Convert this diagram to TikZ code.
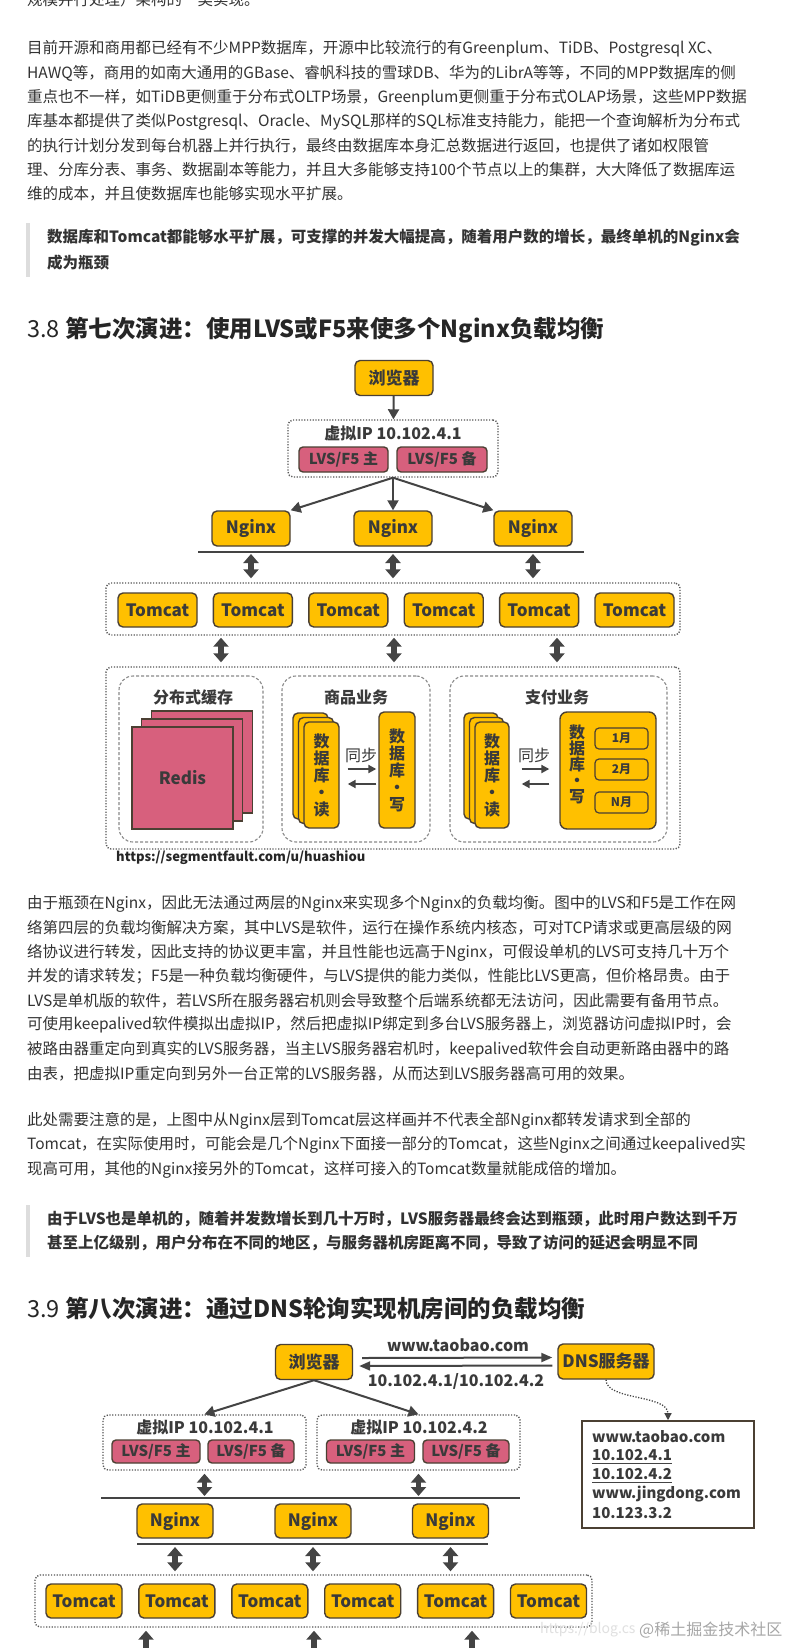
\documentclass[tikz,border=0pt]{standalone}
\usepackage{fontspec}
\setmainfont{Noto Sans CJK SC}
\usepackage{xcolor}
\usepackage{tikz}
\usetikzlibrary{arrows.meta, positioning}

\definecolor{gold}{HTML}{FFC000}
\definecolor{rose}{HTML}{D7607D}
\definecolor{edge}{HTML}{4B4033}
\definecolor{boxtext}{HTML}{3A3A3A}
\definecolor{arrowc}{HTML}{444444}
\definecolor{groupline}{HTML}{555555}
\definecolor{panelline}{HTML}{8A8A8A}
\definecolor{bodytext}{HTML}{333333}
\definecolor{quotebar}{HTML}{DDDDDD}

\begin{document}
\begin{tikzpicture}[
  x=1pt, y=-1pt,
  node distance=15pt and 15pt,
  line/.style={anchor=west, inner sep=0pt, text=bodytext, font=\fontsize{15.5}{18}\selectfont},
  quote/.style={line, font=\fontsize{15.5}{18}\selectfont\bfseries},
  head/.style={anchor=west, inner sep=0pt, text=black!85, font=\fontsize{23.5}{28}\selectfont\bfseries},
  ybox/.style={draw=edge, fill=gold, rounded corners=5pt, line width=1.4pt, text=boxtext,
    font=\fontsize{17}{19}\selectfont\bfseries, minimum width=78pt, minimum height=35pt, inner sep=0pt},
  tbox/.style={ybox, minimum width=79pt, minimum height=34pt},
  pbox/.style={ybox, fill=rose, rounded corners=4pt, font=\fontsize{15}{17}\selectfont\bfseries, minimum height=25pt},
  rbox/.style={ybox, minimum width=35pt, minimum height=106pt, rounded corners=5pt, align=center,
    font=\fontsize{16}{17}\selectfont\bfseries},
  mbox/.style={ybox, minimum width=53pt, minimum height=21pt, line width=1.2pt, rounded corners=4pt,
    font=\fontsize{12}{14}\selectfont\bfseries},
  sheet/.style={draw=edge, fill=rose, line width=1.4pt, minimum width=101pt, minimum height=102pt,
    inner sep=0pt, text=boxtext, font=\fontsize{17}{19}\selectfont\bfseries},
  vtext/.style={inner sep=0pt, align=center, text=boxtext, font=\fontsize{16}{16}\selectfont\bfseries},
  tag/.style={inner sep=0pt, text=boxtext, font=\fontsize{16}{18}\selectfont\bfseries},
  sync/.style={inner sep=0pt, text=boxtext, font=\fontsize{16}{18}\selectfont},
  entry/.style={anchor=west, inner sep=0pt, text=boxtext, font=\fontsize{15}{17}\selectfont\bfseries},
  url/.style={anchor=west, inner sep=0pt, text=black!85, font=\fontsize{13}{15}\selectfont\bfseries},
  group/.style={draw=groupline, dash pattern=on 1.2pt off 1.6pt, line width=1.4pt, rounded corners=5pt, inner sep=0pt},
  panel/.style={draw=panelline, dash pattern=on 3pt off 2pt, line width=1.1pt, rounded corners=14pt, inner sep=0pt},
  arrow/.style={-{Triangle[width=11pt,length=10pt]}, draw=arrowc, line width=2pt},
  arrowtwo/.style={-{Triangle[width=9pt,length=11pt]}, draw=arrowc, line width=2pt},
  sarrow/.style={-{Triangle[width=8pt,length=8pt]}, draw=arrowc, line width=2pt},
  darrow/.style={{Triangle[width=15pt,length=9pt]}-{Triangle[width=15pt,length=9pt]}, draw=arrowc, line width=5.5pt},
  dotarrow/.style={-{Triangle[width=7pt,length=7pt]}, draw=arrowc, line width=1.3pt, dash pattern=on 1.2pt off 1.6pt},
  bar/.style={draw=arrowc, line width=2pt}
]
\useasboundingbox (0,0) rectangle (789,1648);
\clip (0,0) rectangle (789,1648);
\fill[white] (0,0) rectangle (789,1648);

% Text before
\node[line] (p0) at (27,0) {规模并行处理）架构的一类实现。};
\node[line] (p11) at (27,49) {目前开源和商用都已经有不少MPP数据库，开源中比较流行的有Greenplum、TiDB、Postgresql XC、};
\node[line] (p12) at (27,73.2) {HAWQ等，商用的如南大通用的GBase、睿帆科技的雪球DB、华为的LibrA等等，不同的MPP数据库的侧};
\node[line] (p13) at (27,97.4) {重点也不一样，如TiDB更侧重于分布式OLTP场景，Greenplum更侧重于分布式OLAP场景，这些MPP数据};
\node[line] (p14) at (27,121.6) {库基本都提供了类似Postgresql、Oracle、MySQL那样的SQL标准支持能力，能把一个查询解析为分布式};
\node[line] (p15) at (27,145.8) {的执行计划分发到每台机器上并行执行，最终由数据库本身汇总数据进行返回，也提供了诸如权限管};
\node[line] (p16) at (27,170) {理、分库分表、事务、数据副本等能力，并且大多能够支持100个节点以上的集群，大大降低了数据库运};
\node[line] (p17) at (27,194.2) {维的成本，并且使数据库也能够实现水平扩展。};
\fill[quotebar] (26,223) rectangle (30,277);
\node[quote] (q11) at (47,238) {数据库和Tomcat都能够水平扩展，可支撑的并发大幅提高，随着用户数的增长，最终单机的Nginx会};
\node[quote] (q12) at (47,263) {成为瓶颈};
\node[head] (h38) at (27,330) {{\mdseries 3.8} 第七次演进：使用LVS或F5来使多个Nginx负载均衡};

% Nodes (first picture)
\node[ybox] (br1) at (394,378) {浏览器};
\node[group, minimum width=210pt, minimum height=57pt] (vip1) at (393,448.5) {};
\node[tag] (vip1t) at (393,433) {虚拟IP 10.102.4.1};
\node[pbox, minimum width=89pt] (lm1) at (343.5,459.5) {LVS/F5 主};
\node[pbox, minimum width=90pt] (lb1) at (442,459.5) {LVS/F5 备};
\node[ybox] (nx1) at (251,528.5) {Nginx};
\node[ybox] (nx2) at (393,528.5) {Nginx};
\node[ybox] (nx3) at (533,528.5) {Nginx};
\coordinate (b1w) at (198,552);
\coordinate (b1e) at (584,552);
\node[group, minimum width=574pt, minimum height=52pt] (tcg1) at (393,609) {};
\node[tbox] (t11) at (157.5,610) {Tomcat};
\node[tbox, right=of t11] (t12) {Tomcat};
\node[tbox, right=of t12] (t13) {Tomcat};
\node[tbox, right=of t13] (t14) {Tomcat};
\node[tbox, right=of t14] (t15) {Tomcat};
\node[tbox, right=of t15] (t16) {Tomcat};
\node[group, minimum width=574pt, minimum height=182pt] (store1) at (393,758) {};
\node[panel, minimum width=144pt, minimum height=166pt] (cache) at (191,759) {};
\node[panel, minimum width=148pt, minimum height=166pt] (goods) at (356,759) {};
\node[panel, minimum width=217pt, minimum height=166pt] (pay) at (558.5,759) {};
\node[tag] (cachet) at (193,697) {分布式缓存};
\node[tag] (goodst) at (356,697) {商品业务};
\node[tag] (payt) at (557,697) {支付业务};
\node[sheet] (rd3) at (202,762) {};
\node[sheet] (rd2) at (192,770) {};
\node[sheet] (rd1) at (182.5,778) {Redis};
\node[rbox] (gr3) at (310.5,766) {};
\node[rbox] (gr2) at (316,770.5) {};
\node[rbox] (gr1) at (321.5,775) {数\\据\\库\\·\\读};
\node[rbox, minimum width=36pt, minimum height=116pt] (gw1) at (397,770) {数\\据\\库\\·\\写};
\node[sync] (gsync) at (361,755) {同步};
\node[rbox, minimum width=34pt] (pr3) at (481,766) {};
\node[rbox, minimum width=34pt] (pr2) at (486.5,770.5) {};
\node[rbox, minimum width=34pt] (pr1) at (492,775) {数\\据\\库\\·\\读};
\node[ybox, minimum width=96pt, minimum height=117pt, rounded corners=7pt] (pw1) at (608,770.5) {};
\node[vtext] (pwt) at (577,764) {数\\据\\库\\·\\写};
\node[mbox] (m1) at (621.5,738.5) {1月};
\node[mbox] (m2) at (621.5,769.5) {2月};
\node[mbox] (mn) at (621.5,802.5) {N月};
\node[sync] (psync) at (534,755) {同步};
\node[url] (src1) at (116,858) {https://segmentfault.com/u/huashiou};
\coordinate (k1) at (221,650);
\coordinate (k2) at (394,650);
\coordinate (k3) at (557,650);

% Pointers (first picture)
\draw[arrow] (br1) -- (vip1);
\draw[arrow] (vip1.south) -- (nx1.north east);
\draw[arrow] (vip1.south) -- (nx2);
\draw[arrow] (vip1.south) -- (nx3.north west);
\draw[bar] (b1w) -- (b1e);
\draw[darrow, shorten <=2pt, shorten >=4pt] (nx1 |- b1w) -- (nx1 |- tcg1.north);
\draw[darrow, shorten <=2pt, shorten >=4pt] (nx2 |- b1w) -- (nx2 |- tcg1.north);
\draw[darrow, shorten <=2pt, shorten >=4pt] (nx3 |- b1w) -- (nx3 |- tcg1.north);
\draw[darrow, shorten <=2pt, shorten >=4pt] (k1 |- tcg1.south) -- (k1 |- store1.north);
\draw[darrow, shorten <=2pt, shorten >=4pt] (k2 |- tcg1.south) -- (k2 |- store1.north);
\draw[darrow, shorten <=2pt, shorten >=4pt] (k3 |- tcg1.south) -- (k3 |- store1.north);
\draw[sarrow] ([xshift=8pt,yshift=6pt]gr1.east) -- ([xshift=-2pt,yshift=1pt]gw1.west);
\draw[sarrow] ([xshift=-2pt,yshift=-14pt]gw1.west) -- ([xshift=8pt,yshift=-9pt]gr1.east);
\draw[sarrow] ([xshift=12pt,yshift=6pt]pr1.east) -- ([xshift=-10pt,yshift=1.5pt]pw1.west);
\draw[sarrow] ([xshift=-10pt,yshift=-13.5pt]pw1.west) -- ([xshift=12pt,yshift=-9pt]pr1.east);

% Text between
\node[line] (p21) at (27,904) {由于瓶颈在Nginx，因此无法通过两层的Nginx来实现多个Nginx的负载均衡。图中的LVS和F5是工作在网};
\node[line] (p22) at (27,928.2) {络第四层的负载均衡解决方案，其中LVS是软件，运行在操作系统内核态，可对TCP请求或更高层级的网};
\node[line] (p23) at (27,952.4) {络协议进行转发，因此支持的协议更丰富，并且性能也远高于Nginx，可假设单机的LVS可支持几十万个};
\node[line] (p24) at (27,976.6) {并发的请求转发；F5是一种负载均衡硬件，与LVS提供的能力类似，性能比LVS更高，但价格昂贵。由于};
\node[line] (p25) at (27,1000.8) {LVS是单机版的软件，若LVS所在服务器宕机则会导致整个后端系统都无法访问，因此需要有备用节点。};
\node[line] (p26) at (27,1025) {可使用keepalived软件模拟出虚拟IP，然后把虚拟IP绑定到多台LVS服务器上，浏览器访问虚拟IP时，会};
\node[line] (p27) at (27,1049.2) {被路由器重定向到真实的LVS服务器，当主LVS服务器宕机时，keepalived软件会自动更新路由器中的路};
\node[line] (p28) at (27,1073.4) {由表，把虚拟IP重定向到另外一台正常的LVS服务器，从而达到LVS服务器高可用的效果。};
\node[line] (p31) at (27,1121) {此处需要注意的是，上图中从Nginx层到Tomcat层这样画并不代表全部Nginx都转发请求到全部的};
\node[line] (p32) at (27,1145.2) {Tomcat，在实际使用时，可能会是几个Nginx下面接一部分的Tomcat，这些Nginx之间通过keepalived实};
\node[line] (p33) at (27,1169.4) {现高可用，其他的Nginx接另外的Tomcat，这样可接入的Tomcat数量就能成倍的增加。};
\fill[quotebar] (26,1205) rectangle (30,1257);
\node[quote] (q21) at (47,1219) {由于LVS也是单机的，随着并发数增长到几十万时，LVS服务器最终会达到瓶颈，此时用户数达到千万};
\node[quote] (q22) at (47,1243) {甚至上亿级别，用户分布在不同的地区，与服务器机房距离不同，导致了访问的延迟会明显不同};
\node[head] (h39) at (27,1309) {{\mdseries 3.9} 第八次演进：通过DNS轮询实现机房间的负载均衡};

% Nodes (second picture)
\node[ybox, minimum width=77pt] (br2) at (314,1362) {浏览器};
\node[ybox, minimum width=96pt] (dns) at (606,1361.5) {DNS服务器};
\node[tag] (ask) at (458,1345) {www.taobao.com};
\node[tag] (reply) at (456,1381) {10.102.4.1/10.102.4.2};
\node[draw=edge, line width=1.6pt, fill=white, minimum width=172pt, minimum height=107pt] (dnstab) at (668,1474.5) {};
\node[entry] (e1) at (592,1437) {www.taobao.com};
\node[entry] (e2) at (592,1455) {10.102.4.1};
\node[entry] (e3) at (592,1474) {10.102.4.2};
\node[entry] (e4) at (592,1494) {www.jingdong.com};
\node[entry] (e5) at (592,1513) {10.123.3.2};
\node[group, minimum width=203pt, minimum height=55pt] (vip2a) at (204.5,1442.5) {};
\node[tag] (vip2at) at (205,1427) {虚拟IP 10.102.4.1};
\node[pbox, minimum width=88pt, minimum height=23pt] (lm2a) at (156,1451.5) {LVS/F5 主};
\node[pbox, minimum width=86pt, minimum height=23pt] (lb2a) at (251,1451.5) {LVS/F5 备};
\node[group, minimum width=203pt, minimum height=55pt] (vip2b) at (418.5,1442.5) {};
\node[tag] (vip2bt) at (419,1427) {虚拟IP 10.102.4.2};
\node[pbox, minimum width=88pt, minimum height=23pt] (lm2b) at (370.5,1451.5) {LVS/F5 主};
\node[pbox, minimum width=86pt, minimum height=23pt] (lb2b) at (466,1451.5) {LVS/F5 备};
\coordinate (b2w) at (101,1498);
\coordinate (b2e) at (520,1498);
\node[ybox, minimum width=76pt, minimum height=34pt] (n21) at (175,1521) {Nginx};
\node[ybox, minimum width=76pt, minimum height=34pt] (n22) at (313,1521) {Nginx};
\node[ybox, minimum width=76pt, minimum height=34pt] (n23) at (450.5,1521) {Nginx};
\coordinate (b3w) at (137,1544);
\coordinate (b3e) at (488,1544);
\node[group, minimum width=557pt, minimum height=52pt] (tcg2) at (313.5,1601) {};
\node[tbox, minimum width=76pt] (t21) at (84,1601) {Tomcat};
\node[tbox, minimum width=76pt, right=15.5pt of t21] (t22) {Tomcat};
\node[tbox, minimum width=76pt, right=15.5pt of t22] (t23) {Tomcat};
\node[tbox, minimum width=76pt, right=15.5pt of t23] (t24) {Tomcat};
\node[tbox, minimum width=76pt, right=15.5pt of t24] (t25) {Tomcat};
\node[tbox, minimum width=76pt, right=15.5pt of t25] (t26) {Tomcat};
\coordinate (j1) at (146,1660);
\coordinate (j2) at (314,1660);
\coordinate (j3) at (472,1660);
\node[anchor=west, inner sep=0pt, text=black!12, font=\fontsize{14}{16}\selectfont] (wm1) at (540,1630) {https://blog.cs};
\node[anchor=west, inner sep=0pt, text=black!35, font=\fontsize{16}{18}\selectfont] (wm2) at (639,1630) {@稀土掘金技术社区};

% Pointers (second picture)
\draw[arrowtwo] ([xshift=9pt,yshift=4pt]br2.east) -- ([xshift=-5pt,yshift=4pt]dns.west);
\draw[arrowtwo] ([xshift=-5pt,yshift=-4pt]dns.west) -- ([xshift=6pt,yshift=-4pt]br2.east);
\draw[dotarrow] (dns.south) .. controls +(0,21) and +(0,-26) .. (dnstab.north);
\draw[draw=arrowc, line width=1pt] ([yshift=-3pt]e2.south west) -- ([yshift=-3pt]e2.south east);
\draw[draw=arrowc, line width=1pt] ([yshift=-3pt]e3.south west) -- ([yshift=-3pt]e3.south east);
\draw[arrow] (br2.south) -- (vip2a.north);
\draw[arrow] (br2.south) -- (vip2b.north);
\draw[bar] (b2w) -- (b2e);
\draw[bar] (b3w) -- (b3e);
\draw[darrow, shorten <=3pt, shorten >=2pt] (vip2a.south) -- (vip2a.south |- b2w);
\draw[darrow, shorten <=3pt, shorten >=2pt] (vip2b.south) -- (vip2b.south |- b2w);
\draw[darrow, shorten <=3pt, shorten >=3pt] (n21 |- b3w) -- (n21 |- tcg2.north);
\draw[darrow, shorten <=3pt, shorten >=3pt] (n22 |- b3w) -- (n22 |- tcg2.north);
\draw[darrow, shorten <=3pt, shorten >=3pt] (n23 |- b3w) -- (n23 |- tcg2.north);
\draw[darrow, shorten <=3pt] (j1 |- tcg2.south) -- (j1);
\draw[darrow, shorten <=3pt] (j2 |- tcg2.south) -- (j2);
\draw[darrow, shorten <=3pt] (j3 |- tcg2.south) -- (j3);
\end{tikzpicture}
\end{document}
